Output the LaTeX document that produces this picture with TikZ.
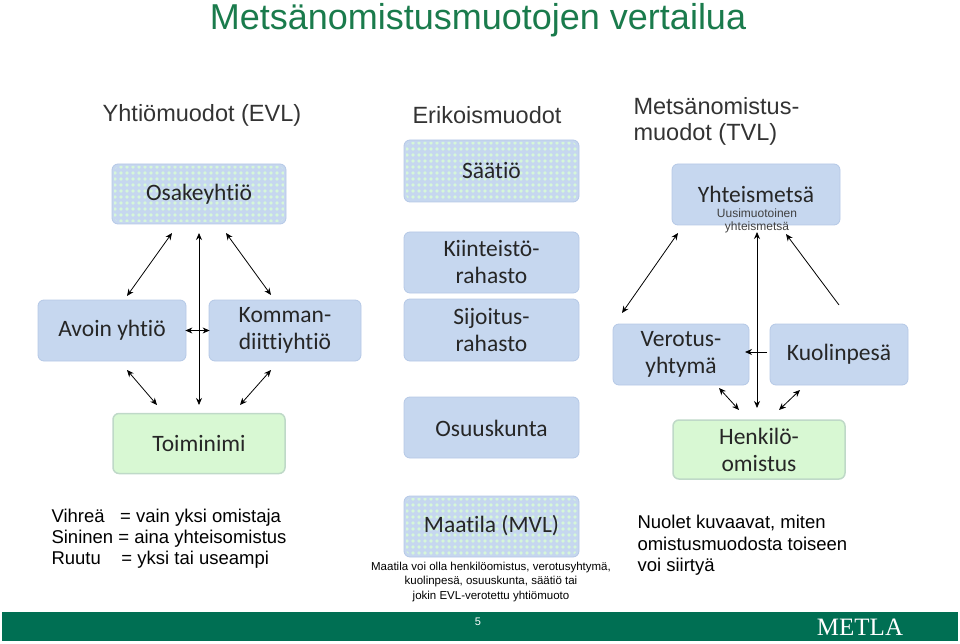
\documentclass[tikz,border=0pt]{standalone}
\usepackage{fontspec}
\usetikzlibrary{arrows.meta}
\setmainfont{Liberation Sans}
\newfontfamily\calfont[RawFeature=-liga]{Carlito}
\newfontfamily\serifx{Liberation Serif}
\definecolor{bbox}{HTML}{C6D7EF}
\definecolor{gbox}{HTML}{D8F8D3}
\definecolor{gedge}{HTML}{BFD9C8}
\definecolor{bedge}{HTML}{B5C8E6}
\definecolor{dotc}{HTML}{D6F7D8}
\definecolor{ttl}{HTML}{1A7B4C}
\definecolor{bar}{HTML}{006F53}
\tikzset{
 bx/.style={rounded corners=6pt,fill=bbox,draw=bedge,line width=0.8pt},
 gx/.style={rounded corners=6pt,fill=gbox,draw=gedge,line width=1.5pt},
 lab/.style={font=\calfont\fontsize{23.5}{27}\selectfont,align=center,text=black!85},
 ar/.style={<->,>={Stealth[length=7pt,width=6pt]},line width=0.8pt},
 ar1/.style={->,>={Stealth[length=7pt,width=6pt]},line width=0.8pt},
 hd/.style={font=\fontsize{23.5}{26}\selectfont,text=black!80,align=left},
}
\newcommand\dotbox[5]{% x1 y1 x2 y2 name
 \path[bx] (#1,#2) rectangle (#3,#4);
 \begin{scope}
 \clip[rounded corners=6pt] (#1+2,#2+2) rectangle (#3-2,#4-2);
 \pgfmathtruncatemacro\nx{(#3-#1)/6}
 \pgfmathtruncatemacro\ny{(#4-#2)/6}
 \foreach \i in {0,...,\nx}{\foreach \j in {0,...,\ny}{
     \fill[dotc] (#1+3+6*\i,#2+3+6*\j) circle (1.9);}}
 \end{scope}
 \coordinate (#5) at ({(#1+#3)/2},{(#2+#4)/2});
}
\begin{document}
\begin{tikzpicture}[x=1pt,y=-1pt]
\useasboundingbox (0,0) rectangle (960,644);
\node[font=\fontsize{36}{40}\selectfont,text=ttl,inner sep=0pt] (title) at (478,20) {Metsänomistusmuotojen vertailua};
\node[hd] (h1) at (202,115) {Yhtiömuodot (EVL)};
\node[hd] (h2) at (487,115) {Erikoismuodot};
\node[hd,anchor=west] (h3) at (630,121) {Metsänomistus-\\muodot (TVL)};
% left group
\dotbox{112}{164}{286}{224}{osa}
\node[lab] (osat) at (osa) {Osakeyhtiö};
\node[bx,lab,minimum width=148,minimum height=61] (avo) at (112,330.5) {Avoin yhtiö};
\node[bx,lab,minimum width=152,minimum height=61] (kom) at (285,330.5) {Komman-\\diittiyhtiö};
\node[gx,lab,minimum width=172,minimum height=60] (toi) at (199,443.5) {Toiminimi};
\coordinate (a1) at (172,233); \coordinate (a2) at (127,296);
\coordinate (b1) at (199,233); \coordinate (b2) at (199,405);
\coordinate (c1) at (226,233); \coordinate (c2) at (271,295);
\coordinate (d1) at (127,370); \coordinate (d2) at (157,405);
\coordinate (e1) at (271,370); \coordinate (e2) at (240,405);
\draw[ar] (a1)--(a2); \draw[ar] (b1)--(b2); \draw[ar] (c1)--(c2);
\draw[ar] (d1)--(d2); \draw[ar] (e1)--(e2);
\draw[ar] ([xshift=-1]avo.east) -- ([xshift=1]kom.west);
% middle
\dotbox{404}{140}{579}{202}{saa}
\node[lab] (saat) at (saa) {Säätiö};
\node[bx,lab,minimum width=175,minimum height=61] (kii) at (491.5,262.5) {Kiinteistö-\\rahasto};
\node[bx,lab,minimum width=175,minimum height=62] (sij) at (491.5,330) {Sijoitus-\\rahasto};
\node[bx,minimum width=175,minimum height=61] (osu) at (491.5,427.5) {};
\node[lab] (osut) at (491.5,428) {Osuuskunta};
\dotbox{404}{496}{579}{557}{maa}
\node[lab] (maat) at (491.5,526) {Maatila (MVL)};
\node[font=\fontsize{11.5}{14.5}\selectfont,align=center] (maas) at (491,582) {Maatila voi olla henkilöomistus, verotusyhtymä,\\kuolinpesä, osuuskunta, säätiö tai\\jokin EVL-verotettu yhtiömuoto};
% right
\node[bx,minimum width=168,minimum height=61] (yht) at (756,194.5) {};
\node[lab] (yhtt) at (756,194) {Yhteismetsä};
\node[font=\fontsize{12}{13}\selectfont,align=center,text=black!75] (yhts) at (757,221) {Uusimuotoinen\\yhteismetsä};
\node[bx,lab,minimum width=136,minimum height=61] (ver) at (681,354.5) {Verotus-\\yhtymä};
\node[bx,lab,minimum width=138,minimum height=61] (kuo) at (839,354.5) {Kuolinpesä};
\node[gx,lab,minimum width=172,minimum height=59] (hen) at (759,449.5) {Henkilö-\\omistus};
\coordinate (f1) at (678,233); \coordinate (f2) at (622,313);
\coordinate (g1) at (757,232); \coordinate (g2) at (757,408);
\coordinate (k1) at (839,305); \coordinate (k2) at (786,234);
\coordinate (m1) at (767,352); \coordinate (m2) at (745,352);
\coordinate (n1) at (719,388); \coordinate (n2) at (739,410);
\coordinate (o1) at (800,390); \coordinate (o2) at (779,410);
\draw[ar] (f1)--(f2); \draw[ar] (g1)--(g2); \draw[ar1] (k1)--(k2);
\draw[ar1] (m1)--(m2); \draw[ar] (n1)--(n2); \draw[ar] (o1)--(o2);
% legend
\node[font=\fontsize{18.5}{21}\selectfont,anchor=north west,align=left] (leg) at (48,506) {Vihreä\ \ \ = vain yksi omistaja\\Sininen = aina yhteisomistus\\Ruutu\ \ \ \ = yksi tai useampi};
\node[font=\fontsize{18.5}{21.5}\selectfont,anchor=north west,align=left] (nuo) at (634,512) {Nuolet kuvaavat, miten\\omistusmuodosta toiseen\\voi siirtyä};
% footer
\fill[bar] (2,612) rectangle (958,641);
\node[text=white,font=\fontsize{11}{12}\selectfont] (pg) at (478,622) {5};
\node[text=white,font=\serifx\fontsize{25}{25}\selectfont] (met) at (860,627) {METLA};
\end{tikzpicture}
\end{document}
